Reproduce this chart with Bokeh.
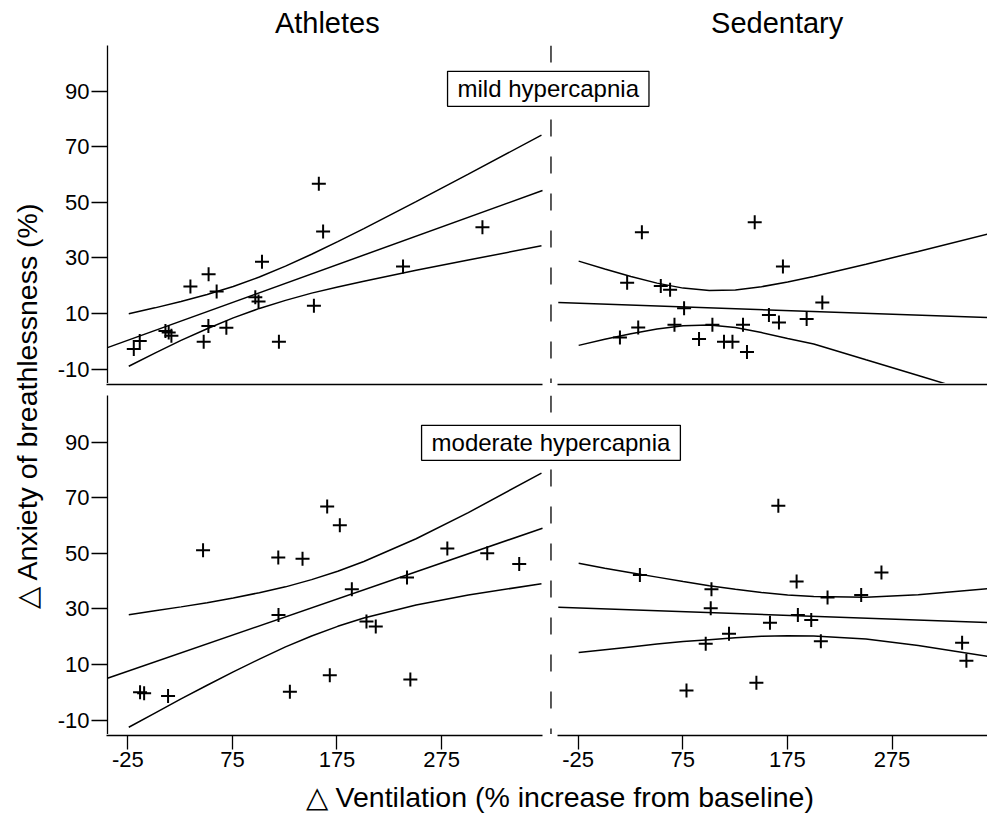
import math
from bokeh.plotting import figure
from bokeh.layouts import row, column
from bokeh.models import Range1d, LinearAxis, FixedTicker, Span, Label
from bokeh.embed import file_html
from bokeh.resources import INLINE

FONT = "Liberation Sans"

# ---------------- data ----------------
x_ticks = [-25, 75, 175, 275]
y_ticks = [-10, 10, 30, 50, 70, 90]

column_titles = ["Athletes", "Sedentary"]
row_labels = ["mild hypercapnia", "moderate hypercapnia"]
x_title = "\u25B3 Ventilation (% increase from baseline)"
y_title = "\u25B3 Anxiety of breathlessness (%)"

# Athletes, mild hypercapnia
ath_mild_x = [-20.2, -14.5, 10.1, 13.2, 15.8, 34.0, 51.4, 59.1, 51.2, 46.7,
              68.4, 102.5, 96.1, 99.2, 118.7, 156.9, 161.0, 152.2, 237.5, 313.5]
ath_mild_y = [-2.8, 0.1, 3.7, 3.1, 2.0, 19.7, 24.1, 17.9, 5.5, -0.2,
              4.8, 28.6, 15.8, 14.3, -0.2, 56.6, 39.5, 12.8, 26.9, 41.0]
ath_mild_fit_x = [-45.4, 371]
ath_mild_fit_y = [-2.3, 54.2]
ath_mild_ci_x = [-25, 0, 25, 50, 75, 100, 125, 150, 175, 200, 250, 300, 370]
ath_mild_ci_hi = [9.9, 12.0, 14.3, 16.8, 19.7, 23.1, 27.0, 31.3, 35.8, 40.5, 50.2, 60.1, 74.1]
ath_mild_ci_lo = [-9.0, -4.3, 0.3, 4.5, 8.4, 11.8, 14.7, 17.3, 19.5, 21.6, 25.5, 29.2, 34.3]

# Sedentary, mild hypercapnia
sed_mild_x = [35.5, 143.5, 170.5, 21.4, 53.6, 62.5, 75.9, 208.2, 32.0, 14.5,
              66.7, 103.0, 132.3, 90.2, 114.1, 122.2, 136.1, 157.1, 166.7, 193.2]
sed_mild_y = [39.2, 42.8, 26.9, 21.0, 19.9, 18.5, 11.9, 13.9, 4.9, 1.3,
              5.9, 5.9, 5.9, 0.8, -0.2, -0.2, -3.9, 9.4, 6.7, 8.0]
sed_mild_fit_x = [-44.5, 366]
sed_mild_fit_y = [13.9, 8.5]
sed_mild_hi_x = [-25, 0, 25, 50, 75, 100, 125, 150, 175, 200, 250, 300, 366]
sed_mild_ci_hi = [28.8, 26.0, 23.3, 20.9, 19.1, 18.2, 18.4, 19.6, 21.3, 23.3, 27.7, 32.3, 38.5]
sed_mild_lo_x = [-25, 0, 25, 50, 75, 100, 125, 150, 175, 200, 250, 300, 332]
sed_mild_ci_lo = [-1.5, 0.7, 2.7, 4.4, 5.6, 5.8, 4.9, 3.1, 1.0, -1.0, -6.7, -12.3, -16.0]

# Athletes, moderate hypercapnia
ath_mod_x = [-14.2, -10.3, 12.6, 46.1, 118.1, 141.3, 164.9, 177.0, 118.3, 129.2,
             188.5, 202.5, 211.4, 167.4, 241.3, 244.5, 279.9, 318.1, 348.7]
ath_mod_y = [0.0, -0.4, -1.4, 51.1, 48.5, 48.0, 66.8, 60.1, 27.8, 0.2,
             37.0, 25.4, 23.6, 6.1, 41.3, 4.6, 51.7, 50.0, 46.1]
ath_mod_fit_x = [-45.4, 371]
ath_mod_fit_y = [5.0, 59.0]
ath_mod_ci_x = [-25, 0, 25, 50, 75, 100, 125, 150, 175, 200, 250, 300, 370]
ath_mod_ci_hi = [27.9, 29.3, 30.7, 32.2, 33.9, 35.8, 37.9, 40.5, 43.5, 47.0, 55.2, 64.6, 78.8]
ath_mod_ci_lo = [-12.6, -7.5, -2.4, 2.5, 7.3, 11.9, 16.3, 20.2, 23.7, 26.7, 31.4, 35.0, 39.0]

# Sedentary, moderate hypercapnia
sed_mod_x = [33.6, 102.1, 101.4, 183.6, 213.2, 245.4, 264.8, 166.1, 184.8, 197.6,
             158.1, 118.9, 96.6, 206.8, 78.2, 145.1, 342.0, 346.1]
sed_mod_y = [42.2, 37.0, 30.2, 39.8, 34.1, 35.0, 43.1, 67.1, 27.8, 26.0,
             25.0, 21.0, 17.4, 18.3, 0.6, 3.4, 17.8, 11.3]
sed_mod_fit_x = [-44.5, 366]
sed_mod_fit_y = [30.6, 25.05]
sed_mod_ci_x = [-25, 0, 25, 50, 75, 100, 125, 150, 175, 200, 250, 300, 366]
sed_mod_ci_hi = [46.4, 44.6, 43.0, 41.4, 39.8, 38.3, 37.0, 35.9, 35.0, 34.4, 34.2, 35.1, 37.2]
sed_mod_ci_lo = [14.3, 15.3, 16.3, 17.3, 18.2, 18.9, 19.6, 20.1, 20.3, 20.2, 19.1, 16.8, 12.9]

# ---------------- layout ----------------
LX = (-45.36, 796.9)        # athletes column, mapped over the whole row frame
RX = (-475.96, 366.3)       # sedentary column, mapped over the whole row frame
TOP_Y = (-15.21, 106.37)
BOT_Y = (-15.21, 106.73)
DIVIDER = 379.1
ROW_W = 933
AX_W = 52

common = dict(output_backend="svg", toolbar_location=None, x_axis_type=None,
              y_axis_type=None, outline_line_color=None, title=None,
              background_fill_color="white", border_fill_color="white")


def style(ax, tick_out):
    ax.major_tick_out = tick_out
    ax.major_tick_in = 0
    ax.minor_tick_out = 0
    ax.minor_tick_in = 0
    ax.axis_line_color = "black"
    ax.axis_line_width = 1.3
    ax.major_tick_line_color = "black"
    ax.major_tick_line_width = 1.3
    ax.major_label_text_font = FONT
    ax.major_label_text_font_size = "22px"
    ax.major_label_text_color = "black"
    ax.major_label_standoff = 2


def panel_row(height, yr, panels, label, label_x, label_y):
    f = figure(width=ROW_W, height=height, x_range=Range1d(*LX), y_range=Range1d(*yr),
               min_border_left=AX_W, min_border_right=0, min_border_top=0,
               min_border_bottom=0, **common)
    f.extra_x_ranges = {"right": Range1d(*RX)}
    yax = LinearAxis(ticker=FixedTicker(ticks=y_ticks))
    style(yax, 16)
    yax.major_label_overrides = {-10: "-10"}
    f.add_layout(yax, "left")
    f.add_layout(Span(location=DIVIDER, dimension="height", line_color="black",
                      line_width=1.3, line_dash="17 20"))
    for (px, py, fx, fy, hx, hy, lx, ly, xr) in panels:
        kw = dict(x_range_name=xr)
        f.line(fx, fy, line_color="black", line_width=1.5, **kw)
        f.line(hx, hy, line_color="black", line_width=1.5, **kw)
        f.line(lx, ly, line_color="black", line_width=1.5, **kw)
        f.scatter(px, py, marker="cross", size=14, line_color="black", line_width=2, **kw)
    f.add_layout(Label(x=label_x, y=label_y, text=label, text_align="center",
                       text_baseline="middle", text_font=FONT, text_font_size="24px",
                       text_color="black", border_line_color="black",
                       border_line_width=1.3, background_fill_color="white",
                       padding=dict(left=10, right=10, top=4, bottom=4)))
    return f


def strip(width, xr, bl, br, height, ticks, tick_out):
    f = figure(width=width, height=height, x_range=Range1d(*xr), y_range=Range1d(0, 1),
               min_border_left=bl, min_border_right=br, min_border_top=0,
               min_border_bottom=height - 1, **common)
    ax = LinearAxis(ticker=FixedTicker(ticks=ticks))
    style(ax, tick_out)
    ax.major_label_overrides = {-25: "-25"}
    if not ticks:
        ax.major_label_text_font_size = "0px"
    f.add_layout(ax, "below")
    return f


top = panel_row(338, TOP_Y, [
    (ath_mild_x, ath_mild_y, ath_mild_fit_x, ath_mild_fit_y, ath_mild_ci_x, ath_mild_ci_hi,
     ath_mild_ci_x, ath_mild_ci_lo, "default"),
    (sed_mild_x, sed_mild_y, sed_mild_fit_x, sed_mild_fit_y, sed_mild_hi_x, sed_mild_ci_hi,
     sed_mild_lo_x, sed_mild_ci_lo, "right"),
], row_labels[0], 376.5, 90.8)

bot = panel_row(339, BOT_Y, [
    (ath_mod_x, ath_mod_y, ath_mod_fit_x, ath_mod_fit_y, ath_mod_ci_x, ath_mod_ci_hi,
     ath_mod_ci_x, ath_mod_ci_lo, "default"),
    (sed_mod_x, sed_mod_y, sed_mod_fit_x, sed_mod_fit_y, sed_mod_ci_x, sed_mod_ci_hi,
     sed_mod_ci_x, sed_mod_ci_lo, "right"),
], row_labels[1], DIVIDER, 89.7)

LSTRIP = (-45.36, 371.46)
RSTRIP = (-44.79, 366.3)
top_lines = row(strip(496, LSTRIP, AX_W, 8, 12, [], 0),
                strip(437, RSTRIP, 7, 0, 12, [], 0), spacing=0)
bot_axes = row(strip(496, LSTRIP, AX_W, 8, 43, x_ticks, 14),
               strip(437, RSTRIP, 7, 0, 43, x_ticks, 14), spacing=0)

# column titles
head = figure(width=ROW_W, height=45, x_range=Range1d(*LX), y_range=Range1d(0, 45),
              min_border_left=AX_W, min_border_right=0, min_border_top=0,
              min_border_bottom=0, **common)
head.extra_x_ranges = {"right": Range1d(*RX)}
head.add_layout(Label(x=165, y=22.2, text=column_titles[0], text_align="center",
                      text_baseline="middle", text_font=FONT, text_font_size="29px",
                      text_color="black"))
head.add_layout(Label(x=165, y=22.2, x_range_name="right", text=column_titles[1],
                      text_align="center", text_baseline="middle", text_font=FONT,
                      text_font_size="29px", text_color="black"))

# x axis title
xlab = figure(width=ROW_W, height=37, x_range=Range1d(54, 987), y_range=Range1d(0, 37),
              min_border_left=0, min_border_right=0, min_border_top=0,
              min_border_bottom=0, **common)
xlab.add_layout(Label(x=533.5, y=18, text=x_title, text_align="center",
                      text_baseline="middle", text_font=FONT, text_font_size="28.5px",
                      text_color="black"))

# y axis title
ylab = figure(width=54, height=814, x_range=Range1d(0, 54), y_range=Range1d(0, 814),
              min_border_left=0, min_border_right=0, min_border_top=0,
              min_border_bottom=0, **common)
ylab.add_layout(Label(x=26, y=409, text=y_title, angle=math.pi / 2,
                      text_align="center", text_baseline="middle", text_font=FONT,
                      text_font_size="28.5px", text_color="black"))

layout = row(ylab, column(head, top, top_lines, bot, bot_axes, xlab, spacing=0), spacing=0)

open("out.html", "w").write(file_html(layout, INLINE))
